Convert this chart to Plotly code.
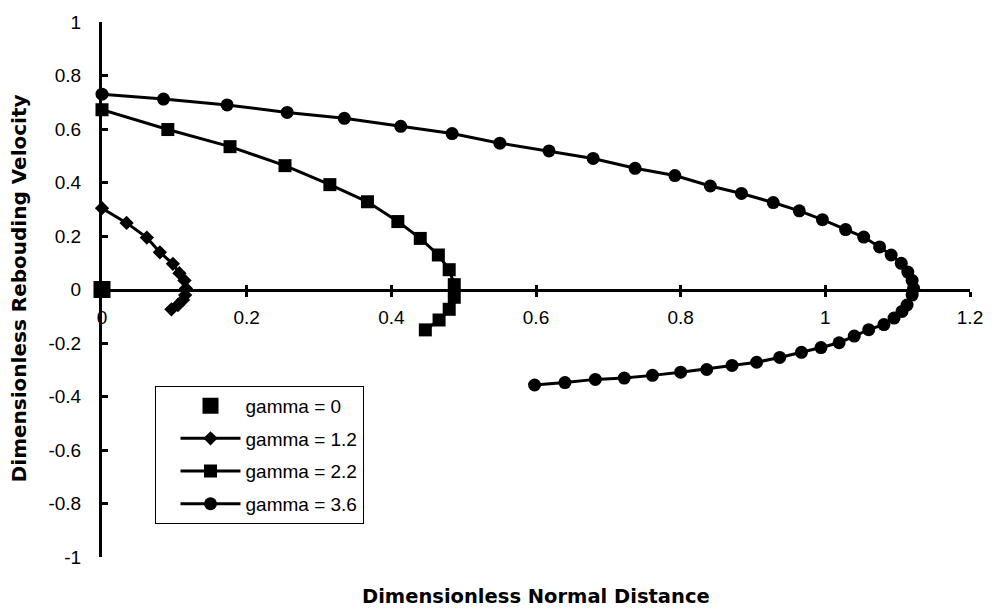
import plotly.graph_objects as go

# gamma = 0
g0_x = [0.0]
g0_y = [0.0]

# gamma = 1.2 (diamonds)
g12_x = [0.0, 0.034, 0.062, 0.080, 0.098, 0.107, 0.114, 0.116, 0.115, 0.112, 0.105, 0.096]
g12_y = [0.304, 0.249, 0.194, 0.139, 0.096, 0.061, 0.034, 0.004, -0.021, -0.039, -0.058, -0.074]

# gamma = 2.2 (squares)
g22_x = [0.0, 0.091, 0.177, 0.253, 0.315, 0.367, 0.409, 0.440, 0.465, 0.480, 0.487, 0.487, 0.480, 0.466, 0.447]
g22_y = [0.672, 0.598, 0.534, 0.463, 0.392, 0.328, 0.254, 0.191, 0.129, 0.074, 0.018, -0.029, -0.074, -0.114, -0.151]

# gamma = 3.6 (circles)
g36_x = [0.0, 0.085, 0.173, 0.256, 0.335, 0.413, 0.484, 0.550, 0.618, 0.679, 0.737, 0.792,
         0.841, 0.884, 0.928, 0.964, 0.996, 1.028, 1.053, 1.075, 1.091, 1.105, 1.114, 1.120,
         1.122, 1.120, 1.113, 1.106, 1.095, 1.081, 1.060, 1.040, 1.019, 0.994, 0.967, 0.937,
         0.905, 0.871, 0.836, 0.800, 0.761, 0.722, 0.682, 0.640, 0.598]
g36_y = [0.730, 0.712, 0.690, 0.662, 0.640, 0.610, 0.583, 0.547, 0.518, 0.490, 0.453, 0.426,
         0.387, 0.359, 0.325, 0.294, 0.261, 0.224, 0.196, 0.159, 0.129, 0.098, 0.065, 0.034,
         0.004, -0.021, -0.058, -0.082, -0.107, -0.131, -0.150, -0.174, -0.199, -0.217, -0.235, -0.254,
         -0.272, -0.284, -0.299, -0.309, -0.321, -0.331, -0.336, -0.348, -0.357]

x_ticks = [0, 0.2, 0.4, 0.6, 0.8, 1.0, 1.2]
x_ticktext = ["0", "0.2", "0.4", "0.6", "0.8", "1", "1.2"]
y_ticks = [-1, -0.8, -0.6, -0.4, -0.2, 0, 0.2, 0.4, 0.6, 0.8, 1]
y_ticktext = ["-1", "-0.8", "-0.6", "-0.4", "-0.2", "0", "0.2", "0.4", "0.6", "0.8", "1"]

names = ["gamma = 0", "gamma = 1.2", "gamma = 2.2", "gamma = 3.6"]

FONT = "Liberation Sans, Arial, sans-serif"
TITLE_FONT = "DejaVu Sans, Liberation Sans, sans-serif"

fig = go.Figure()
fig.add_trace(go.Scatter(x=g0_x, y=g0_y, mode="markers", name=names[0],
                         marker=dict(symbol="square", size=17, color="black"),
                         cliponaxis=False, legendgroup="a"))
fig.add_trace(go.Scatter(x=g12_x, y=g12_y, mode="lines+markers", name=names[1],
                         line=dict(color="black", width=3),
                         marker=dict(symbol="diamond", size=11, color="black"),
                         cliponaxis=False, legendgroup="b"))
fig.add_trace(go.Scatter(x=g22_x, y=g22_y, mode="lines+markers", name=names[2],
                         line=dict(color="black", width=3),
                         marker=dict(symbol="square", size=13, color="black"),
                         cliponaxis=False, legendgroup="c"))
fig.add_trace(go.Scatter(x=g36_x, y=g36_y, mode="lines+markers", name=names[3],
                         line=dict(color="black", width=3),
                         marker=dict(symbol="circle", size=13, color="black"),
                         cliponaxis=False, legendgroup="d"))
# dummy trace for overlay axis (inside ticks on x-axis)
fig.add_trace(go.Scatter(x=[None], y=[None], xaxis="x2", showlegend=False, hoverinfo="skip"))

fig.update_layout(
    width=995, height=612,
    margin=dict(l=102, r=17, t=15, b=55),
    paper_bgcolor="white", plot_bgcolor="white",
    font=dict(family=FONT, size=19, color="black"),
    showlegend=True,
    legend=dict(x=0.0605, y=0.32, xanchor="left", yanchor="top",
                bordercolor="black", borderwidth=1, bgcolor="white",
                font=dict(size=19), itemwidth=60, indentation=20, tracegroupgap=5),
    xaxis=dict(range=[0, 1.2], tickvals=x_ticks, ticktext=x_ticktext,
               showline=True, linecolor="black", linewidth=3,
               anchor="free", position=0.5,
               ticks="outside", ticklen=5, tickwidth=3, tickcolor="black",
               ticklabelstandoff=5, tickfont=dict(size=19),
               showgrid=False, zeroline=False),
    xaxis2=dict(range=[0, 1.2], overlaying="x", tickvals=x_ticks,
                anchor="free", position=0.5, side="bottom",
                ticks="inside", ticklen=5, tickwidth=3, tickcolor="black",
                showticklabels=False, showline=False, showgrid=False, zeroline=False),
    yaxis=dict(range=[-1, 1], tickvals=y_ticks, ticktext=y_ticktext,
               showline=True, linecolor="black", linewidth=3,
               ticks="inside", ticklen=6, tickwidth=3, tickcolor="black",
               ticklabelstandoff=14, tickfont=dict(size=19),
               showgrid=False, zeroline=False),
    annotations=[
        dict(text="<b>Dimensionless Normal Distance</b>", xref="paper", yref="paper",
             x=(540 - 102) / 876, y=-(597 - 557) / 542, xanchor="center", yanchor="middle",
             showarrow=False, font=dict(family=TITLE_FONT, size=19.5)),
        dict(text="<b>Dimensionless Rebouding Velocity</b>", xref="paper", yref="paper",
             x=-(102 - 18) / 876, y=(557 - 285) / 542, xanchor="center", yanchor="middle",
             textangle=-90, showarrow=False, font=dict(family=TITLE_FONT, size=20)),
    ],
)

fig.write_html("out.html")
